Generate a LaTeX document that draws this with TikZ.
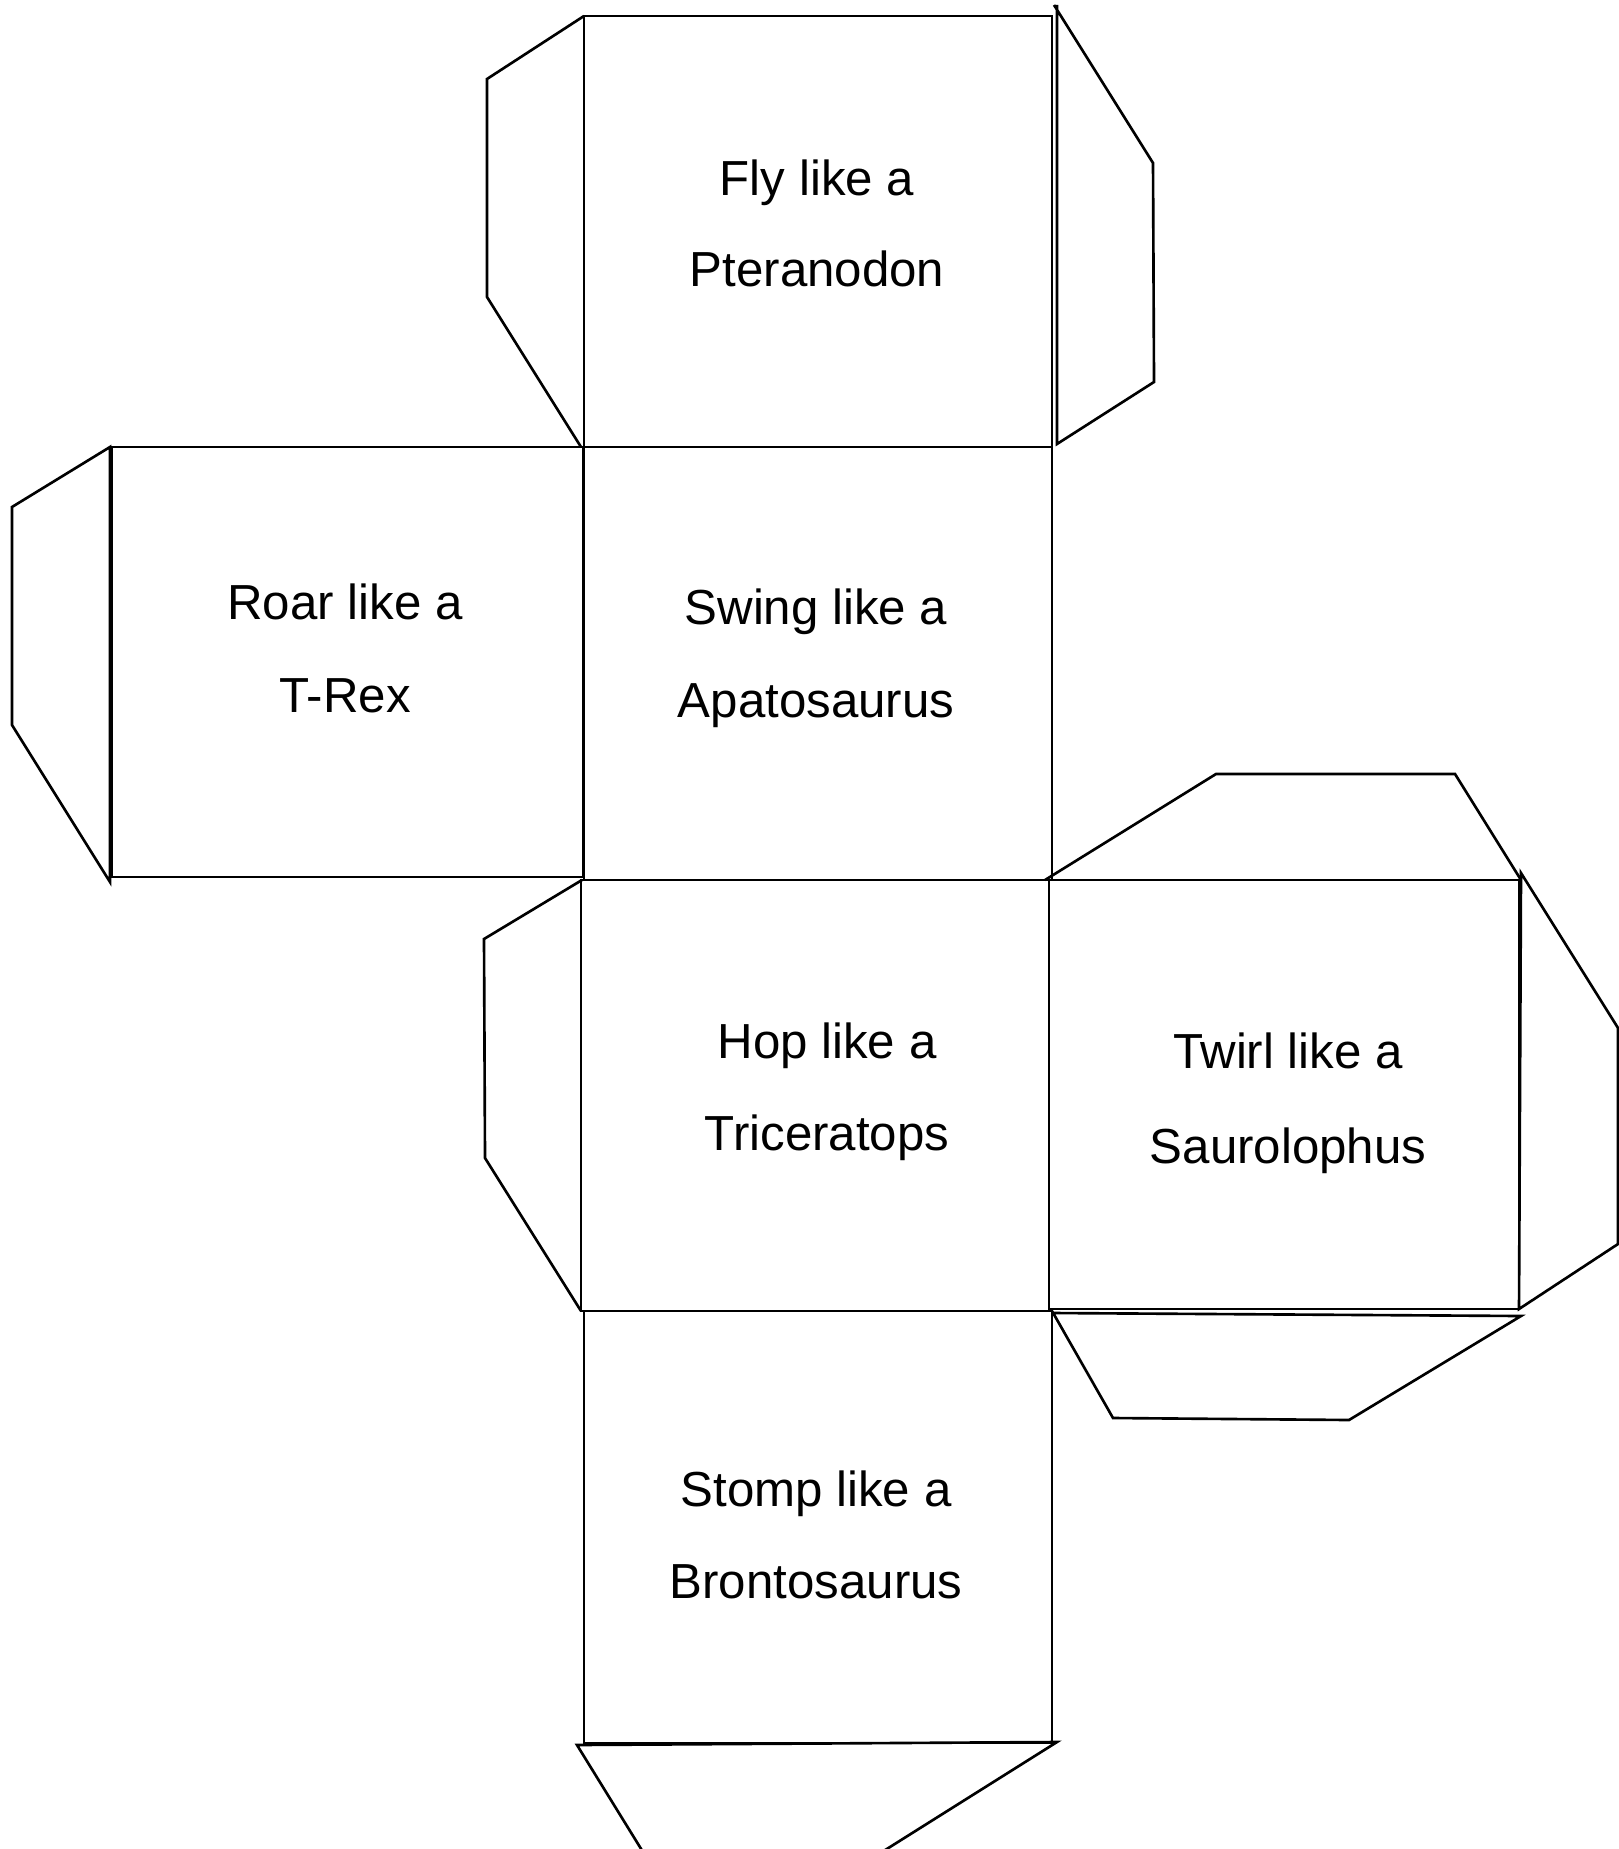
\documentclass[tikz,border=0pt]{standalone}
\usepackage{fontspec}
\setmainfont{Liberation Sans}
\begin{document}
\begin{tikzpicture}[x=0.01cm,y=-0.01cm,
  face/.style={draw=black,line width=0.75pt},
  flap/.style={draw=black,line width=0.75pt,line join=miter},
  lbl/.style={anchor=base,inner sep=0pt,font=\fontsize{14}{17}\selectfont}]
\useasboundingbox[fill=white] (0,0) rectangle (1619,1849);
% faces
\draw[face] (584,16) rectangle (1052,447);
\draw[face] (584,447) rectangle (1052,880);
\draw[face] (112,447) rectangle (583,877);
\draw[face] (581,880) rectangle (1049,1311);
\draw[face] (1049,880) rectangle (1519,1309);
\draw[face] (584,1311) rectangle (1052,1743);
% flaps
\draw[flap] (584,16) -- (487,79) -- (487,297) -- (581,447);
\draw[flap] (1054,5) -- (1153,163) -- (1154,382) -- (1057,444) -- (1057,5);
\draw[flap] (110,447) -- (12,507) -- (12,725) -- (110,882) -- cycle;
\draw[flap] (582,880) -- (484,939) -- (485,1158) -- (581,1311);
\draw[flap] (1045,880) -- (1216,774) -- (1455,774) -- (1521,880);
\draw[flap] (1521,873) -- (1618,1028) -- (1618,1244) -- (1519,1309) -- cycle;
\draw[flap] (1052,1311) -- (1113,1418) -- (1349,1420) -- (1521,1316) -- (1052,1313);
\draw[flap] (643,1852) -- (577,1745) -- (1057,1742) -- (882,1852);
% labels
\node[lbl] (fly1) at (817,196) {Fly like a};
\node[lbl] (fly2) at (817,287) {Pteranodon};
\node[lbl] (roar1) at (345,619) {Roar like a};
\node[lbl] (roar2) at (345,712) {T-Rex};
\node[lbl] (swing1) at (816,624) {Swing like a};
\node[lbl] (swing2) at (816,717) {Apatosaurus};
\node[lbl] (hop1) at (827,1058) {Hop like a};
\node[lbl] (hop2) at (827,1150) {Triceratops};
\node[lbl] (twirl1) at (1288,1068) {Twirl like a};
\node[lbl] (twirl2) at (1288,1163) {Saurolophus};
\node[lbl] (stomp1) at (816,1506) {Stomp like a};
\node[lbl] (stomp2) at (816,1598) {Brontosaurus};
\end{tikzpicture}
\end{document}
